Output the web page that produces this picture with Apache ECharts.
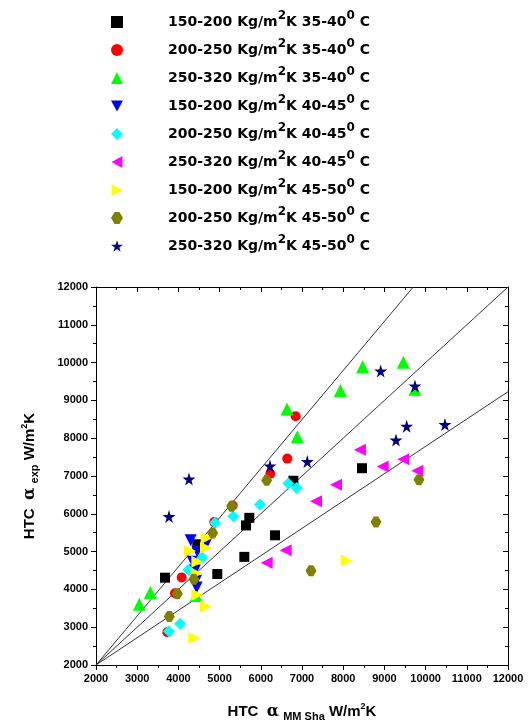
<!DOCTYPE html>
<html><head><meta charset="utf-8">
<script src="https://cdn.jsdelivr.net/npm/echarts@6/dist/echarts.min.js"></script>
<style>html,body{margin:0;padding:0;background:#fff}#c{width:528px;height:727px}</style>
</head><body><div id="c"></div>
<script>
const seriesNames = [
  '150-200 Kg/m{sup|2}K 35-40{sup|0} C',
  '200-250 Kg/m{sup|2}K 35-40{sup|0} C',
  '250-320 Kg/m{sup|2}K 35-40{sup|0} C',
  '150-200 Kg/m{sup|2}K 40-45{sup|0} C',
  '200-250 Kg/m{sup|2}K 40-45{sup|0} C',
  '250-320 Kg/m{sup|2}K 40-45{sup|0} C',
  '150-200 Kg/m{sup|2}K 45-50{sup|0} C',
  '200-250 Kg/m{sup|2}K 45-50{sup|0} C',
  '250-320 Kg/m{sup|2}K 45-50{sup|0} C'
];
const black = [[3675,4310],[4459,5194],[4944,4407],[5600,4861],[5641,5693],[5721,5893],[6344,5431],[6790,6874],[8456,7206]];
const red = [[6846,8581],[6643,7460],[6231,7059],[5317,6218],[4080,4318],[3917,3898],[3731,2866],[4870,5780]];
const green = [[3051,3609],[3318,3916],[4427,3838],[6636,8773],[6886,8037],[7930,9263],[8472,9893],[9459,10006],[9742,9297]];
const blue = [[4298,5299],[4686,5230],[4459,5000],[4347,4730],[4400,4500],[4427,4231],[4443,4048]];
const cyan = [[3772,2892],[4039,3094],[4240,4510],[4580,4843],[4888,5762],[5333,5937],[5980,6244],[6667,6804],[6870,6680]];
const magenta = [[6143,4704],[6604,5037],[7340,6331],[7825,6770],[8407,7696],[8958,7250],[9459,7442],[9799,7137]];
const yellow = [[4386,2717],[4670,3549],[4459,3856],[4443,4423],[4459,4730],[4281,5019],[4670,5105],[4686,5360],[8085,4766]];
const olive = [[3780,3286],[3974,3882],[4378,4266],[4832,5491],[5293,6200],[6143,6890],[7218,4494],[8796,5780],[9839,6903]];
const navy = [[3772,5929],[4257,6918],[6223,7266],[7129,7381],[8910,9778],[9742,9384],[9541,8318],[9281,7951],[10470,8360]];
const refLineUpper = [[2000,2000],[9700,12000]];
const refLineMid = [[2000,2000],[12000,12000]];
const refLineLower = [[2000,2000],[12000,9230]];

const allData = [black, red, green, blue, cyan, magenta, yellow, olive, navy];
const colors = ['#000000','#ff0000','#00ff00','#0000ff','#00ffff','#ff00ff','#ffff00','#808000','#000080'];
const symbols = [
  'rect','circle','triangle',
  'path://M0,0 L10,0 L5,9 Z',
  'diamond',
  'path://M9,0 L9,10 L0,5 Z',
  'path://M0,0 L0,10 L9,5 Z',
  'path://M3,0 L7,0 L10,5 L7,10 L3,10 L0,5 Z',
  'path://M50,0 L61,35 L98,35 L68,57 L79,91 L50,70 L21,91 L32,57 L2,35 L39,35 Z'
];
const sizes = [10, 10, 13, 12, 12, 12, 12, 11, 13];

const scatterSeries = allData.map((d, i) => ({
  type: 'scatter', name: seriesNames[i], data: d, symbol: symbols[i], symbolSize: sizes[i],
  itemStyle: {color: colors[i], opacity: 1}, z: 3
}));
const lineSeries = [refLineUpper, refLineMid, refLineLower].map(d => ({
  type: 'line', data: d, symbol: 'none', silent: true, z: 2,
  lineStyle: {color: '#333', width: 1}
}));

const labelFont = {fontFamily: 'Liberation Sans', fontWeight: 'bold', fontSize: 11, color: '#000', formatter: v => String(v)};
const nameRich = {
  sub: {fontFamily: 'Liberation Sans', fontWeight: 'bold', fontSize: 11, padding: [10,0,0,0]},
  sup: {fontFamily: 'Liberation Sans', fontWeight: 'bold', fontSize: 9, padding: [0,0,9,0]},
  a: {fontFamily: 'DejaVu Serif', fontSize: 16}
};
const baseAxis = {min: 2000, max: 12000, interval: 1000};

const chart = echarts.init(document.getElementById('c'));
chart.setOption({
  animation: false,
  backgroundColor: '#fff',
  grid: {left: 96, right: 20, top: 287, bottom: 58},
  legend: {
    orient: 'vertical', left: 106, top: 5, itemGap: 9, itemWidth: 12, itemHeight: 12,
    data: seriesNames,
    textStyle: {fontFamily: 'DejaVu Sans', fontWeight: 'bold', fontSize: 14, color: '#000', padding: [0,0,0,40],
      rich: {sup: {fontFamily: 'DejaVu Sans', fontWeight: 'bold', fontSize: 12, padding: [0,0,12,0]}}}
  },
  xAxis: [
    Object.assign({}, baseAxis, {type: 'value', position: 'bottom',
      name: 'HTC  {a|α} {sub|MM Sha} W/m{sup|2}K', nameLocation: 'middle', nameGap: 36,
      nameTextStyle: {fontFamily: 'Liberation Sans', fontWeight: 'bold', fontSize: 15, color: '#000', rich: nameRich},
      axisLine: {show: true, onZero: false, lineStyle: {color: '#000'}},
      axisTick: {show: true, inside: false, length: 5, lineStyle: {color: '#000'}},
      minorTick: {show: true, splitNumber: 2, length: 3, lineStyle: {color: '#000'}},
      axisLabel: Object.assign({margin: 8}, labelFont),
      splitLine: {show: false}}),
    Object.assign({}, baseAxis, {type: 'value', position: 'top',
      axisLine: {show: true, onZero: false, lineStyle: {color: '#000'}},
      axisTick: {show: true, inside: true, length: 5, lineStyle: {color: '#000'}},
      minorTick: {show: true, splitNumber: 2, length: 3, lineStyle: {color: '#000'}},
      axisLabel: {show: false}, splitLine: {show: false}})
  ],
  yAxis: [
    Object.assign({}, baseAxis, {type: 'value', position: 'left',
      name: 'HTC  {a|α} {sub|exp} W/m{sup|2}K', nameLocation: 'middle', nameGap: 56, nameRotate: 90,
      nameTextStyle: {fontFamily: 'Liberation Sans', fontWeight: 'bold', fontSize: 15, color: '#000', rich: nameRich},
      axisLine: {show: true, onZero: false, lineStyle: {color: '#000'}},
      axisTick: {show: true, inside: false, length: 5, lineStyle: {color: '#000'}},
      minorTick: {show: true, splitNumber: 2, length: 3, lineStyle: {color: '#000'}},
      axisLabel: Object.assign({margin: 8}, labelFont),
      splitLine: {show: false}}),
    Object.assign({}, baseAxis, {type: 'value', position: 'right',
      axisLine: {show: true, onZero: false, lineStyle: {color: '#000'}},
      axisTick: {show: true, inside: true, length: 5, lineStyle: {color: '#000'}},
      minorTick: {show: true, splitNumber: 2, length: 3, lineStyle: {color: '#000'}},
      axisLabel: {show: false}, splitLine: {show: false}})
  ],
  series: lineSeries.concat(scatterSeries)
});
</script>
</body></html>
